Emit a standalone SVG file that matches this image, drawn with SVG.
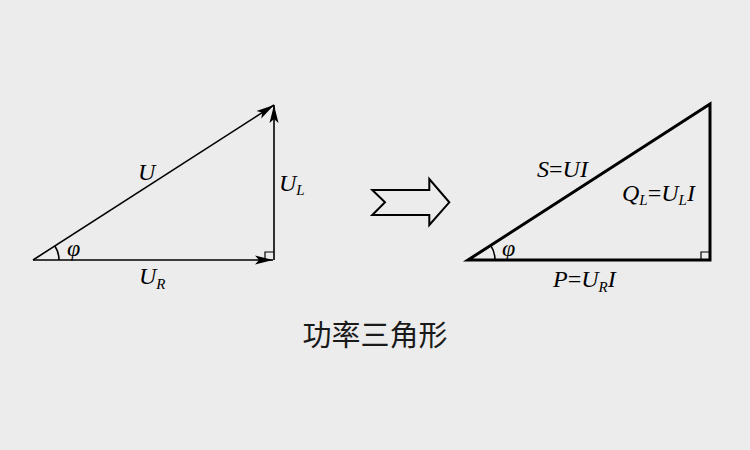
<svg xmlns="http://www.w3.org/2000/svg" width="750" height="450" viewBox="0 0 750 450">
<style>
.t{font-family:"Liberation Serif","Times New Roman",serif;font-style:italic;font-size:24px;fill:#000}
.s{font-size:15px}
.n{font-style:normal}
.thin{stroke:#000;stroke-width:1.6;fill:none}
.thick{stroke:#000;stroke-width:3;fill:none;stroke-linejoin:miter}
.sq{stroke:#000;stroke-width:1.2;fill:none}
.cjk{font-family:"Noto Sans CJK SC","Noto Sans",sans-serif;font-size:29px;fill:#1a1a1a}
</style>
<defs>
<marker id="ah" viewBox="0 0 18 10" refX="18" refY="5" markerWidth="18" markerHeight="10" markerUnits="userSpaceOnUse" orient="auto">
<path d="M18,5 L0,0.5 L4,5 L0,9.5 Z" fill="#000"/>
</marker>
</defs>
<rect width="750" height="450" fill="#ececec"/>
<g id="connectors">
<line class="thin" x1="33" y1="260" x2="274" y2="105" marker-end="url(#ah)"/>
<line class="thin" x1="274" y1="260" x2="274" y2="105" marker-end="url(#ah)"/>
<line class="thin" x1="33" y1="260" x2="273" y2="260" marker-end="url(#ah)"/>
</g>
<g id="voltage-triangle">
<path class="sq" d="M265,260 V252 H274"/>
<path class="thin" d="M59,260 A26,26 0 0 0 54.9,246"/>
<text class="t" x="67" y="256" font-size="23">φ</text>
<text class="t" x="138" y="180">U</text>
<text class="t" x="279" y="191">U<tspan class="s" dy="4">L</tspan></text>
<text class="t" x="139" y="284">U<tspan class="s" dy="5">R</tspan></text>
</g>
<g id="arrow">
<polygon points="372.3,190 429.3,190 429.3,179 449.3,202.3 429.3,225 429.3,215 372.3,215 385,202.3" fill="#ececec" stroke="#000" stroke-width="2"/>
</g>
<g id="power-triangle">
<polygon class="thick" points="468,260 710,104 710,260"/>
<path class="sq" d="M701,260 V252 H710"/>
<path class="thin" d="M495,260 A27,27 0 0 0 490.7,245.4"/>
<text class="t" x="502" y="256" font-size="23">φ</text>
<text class="t" x="537" y="177">S<tspan class="n">=</tspan>UI</text>
<text class="t" x="622" y="201">Q<tspan class="s" dy="4">L</tspan><tspan class="n" dy="-4">=</tspan>U<tspan class="s" dy="4">L</tspan><tspan dy="-4">I</tspan></text>
<text class="t" x="553" y="287">P<tspan class="n">=</tspan>U<tspan class="s" dy="5">R</tspan><tspan dy="-5">I</tspan></text>
</g>
<g id="title">
<text class="cjk" x="375" y="346" text-anchor="middle">功率三角形</text>
</g>
</svg>
